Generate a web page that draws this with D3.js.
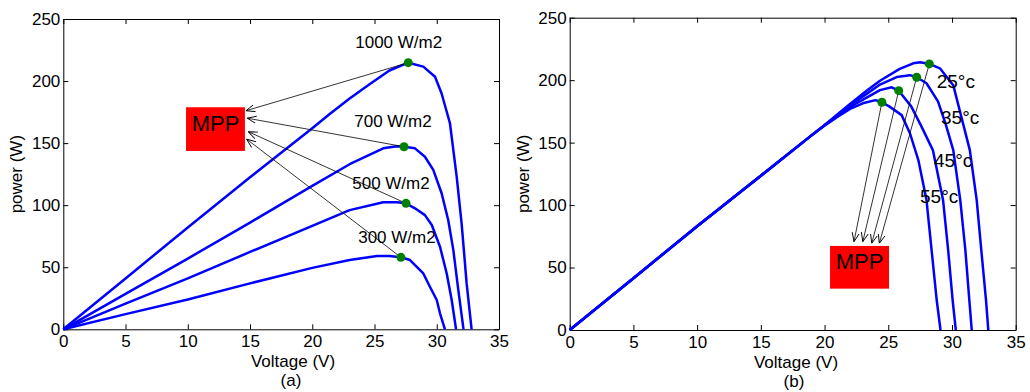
<!DOCTYPE html>
<html>
<head>
<meta charset="utf-8">
<script src="https://cdn.jsdelivr.net/npm/d3@7"></script>
<style>
  html, body { margin: 0; padding: 0; background: #fff; }
  svg { display: block; font-family: "Liberation Sans", Arial, sans-serif; }
</style>
</head>
<body>
<svg id="chart" width="1030" height="392"></svg>
<script>
// shared axis ticks
const xTicks = [0, 5, 10, 15, 20, 25, 30, 35];
const yTicks = [0, 50, 100, 150, 200, 250];

// (a) irradiance curves
const irrLabels = ["1000 W/m2", "700 W/m2", "500 W/m2", "300 W/m2"];
const volts1000 = [0, 5, 10, 15, 20, 21.4, 23, 24.6, 26.2, 27.71, 28.92, 29.86, 30.39, 31.06, 31.6, 32.0, 32.4, 32.8];
const power1000 = [0, 41, 82, 122.5, 162, 173.5, 186, 197.5, 208.5, 214.8, 211.6, 203.5, 190, 166, 123, 85, 37, 0];
const volts700 = [0, 5, 10, 15, 20, 23, 25.7, 26.8, 27.37, 28.25, 29.05, 29.72, 30.39, 30.92, 31.33, 31.73, 32.15];
const power700 = [0, 28.5, 57, 86, 115.5, 133, 145.8, 147.5, 147.1, 145.8, 139, 128.4, 109.6, 88, 64, 31.7, 0];
const volts500 = [0, 5, 10, 15, 20, 23, 25.7, 26.8, 27.53, 28.25, 29.05, 29.6, 30.26, 30.8, 31.2, 31.55];
const power500 = [0, 20.7, 41, 62.3, 83.4, 96, 102.3, 102.3, 101.5, 97.5, 92, 84, 66.5, 45, 23.6, 0];
const volts300 = [0, 5, 10, 15, 20, 23, 25.2, 26.2, 27.12, 27.85, 28.92, 29.45, 30.0, 30.26, 30.66];
const power300 = [0, 12.2, 24, 37, 49.5, 55.8, 59, 59, 58, 55.8, 45, 34.3, 23.6, 12.9, 0];
const irrMppV = [27.71, 27.37, 27.53, 27.12];
const irrMppP = [214.8, 147.1, 101.5, 58];
const irrTipV = [14.67, 14.78, 14.86, 14.73];
const irrTipP = [176.1, 170.1, 159.2, 153.2];
const irrLabelV = [23.45, 23.37, 23.21, 23.69];
const irrLabelP = [226.4, 163.3, 112.8, 69.8];
const irrBoxV = [9.86, 14.59];
const irrBoxP = [143.7, 178.9];

// (b) temperature curves
const tempLabels = ["25°c", "35°c", "45°c", "55°c"];
const volts25 = [0, 5, 10, 15, 19, 20, 21, 22, 23.3, 24.35, 25.9, 26.96, 27.5, 28.22, 29.05, 30.1, 31.4, 31.94, 32.3, 32.67, 32.85];
const power25 = [0, 41.5, 83, 123.5, 156, 164, 172.5, 181, 191.5, 199.5, 209, 213.5, 214.3, 213, 209.5, 196, 144, 104, 64, 24, 0];
const volts35 = [0, 5, 10, 15, 19, 20, 21, 22, 23.3, 24.35, 25.66, 26.7, 27.23, 28, 28.9, 29.5, 30.1, 30.65, 31.05, 31.36, 31.55];
const power35 = [0, 41.5, 83, 123.5, 156, 164, 172, 180, 189, 196.5, 202.5, 204, 202.3, 197.5, 183, 165, 144, 104, 64, 24, 0];
const volts45 = [0, 5, 10, 15, 19, 20, 21, 22, 23.3, 24.35, 25.27, 25.82, 26.8, 27.6, 28.5, 29.3, 29.7, 30.05, 30.3];
const power45 = [0, 41.5, 83, 123.5, 156, 164, 171.5, 178.5, 186, 192, 194.3, 191.6, 179, 163, 144, 104, 64, 24, 0];
const volts55 = [0, 5, 10, 15, 19, 20, 21, 22, 23, 24, 24.5, 25.1, 26.05, 26.7, 27.36, 28.0, 28.4, 28.8, 29.1];
const power55 = [0, 41.5, 83, 123.5, 156, 163.5, 170.5, 177, 181.5, 184, 182.3, 178.8, 172, 157.5, 136, 104, 64, 24, 0];
const tempMppV = [28.22, 27.23, 25.82, 24.5];
const tempMppP = [213, 202.3, 191.6, 182.3];
const tempTipV = [24.3, 23.7, 23.0, 22.31];
const tempTipP = [69.4, 69.4, 70.7, 70.7];
const tempLabelV = [28.8, 29.14, 28.59, 27.49];
const tempLabelP = [193.5, 164.9, 130.7, 101.9];
const tempBoxV = [20.43, 25.06];
const tempBoxP = [33.1, 67.3];

const svg = d3.select("#chart");

// open arrow head, like the matlab annotation arrows
svg.append("defs").append("marker")
    .attr("id", "arrow")
    .attr("viewBox", "0 0 10 10")
    .attr("refX", 10)
    .attr("refY", 5)
    .attr("markerUnits", "userSpaceOnUse")
    .attr("markerWidth", 9)
    .attr("markerHeight", 9)
    .attr("orient", "auto")
  .append("path")
    .attr("d", "M0,1 L10,5 L0,9")
    .attr("fill", "none")
    .attr("stroke", "#000")
    .attr("stroke-width", 1);

function drawPanel(p) {
  const x = d3.scaleLinear().domain([0, 35]).range([p.left, p.right]);
  const y = d3.scaleLinear().domain([0, 250]).range([p.bottom, p.top]);
  const g = svg.append("g");

  const axisStyle = sel => {
    sel.attr("font-family", null);
    sel.selectAll("path.domain").attr("stroke", "#000");
    sel.selectAll(".tick line").attr("stroke", "#000");
    sel.selectAll(".tick text").attr("fill", "#000").style("font-size", "17px");
  };

  g.append("g").attr("transform", `translate(0,${p.bottom})`)
    .call(d3.axisBottom(x).tickValues(xTicks).tickSize(-5).tickSizeOuter(0).tickPadding(6))
    .call(axisStyle);
  g.append("g").attr("transform", `translate(0,${p.top})`)
    .call(d3.axisTop(x).tickValues(xTicks).tickSize(-5).tickSizeOuter(0).tickFormat(""))
    .call(axisStyle);
  g.append("g").attr("transform", `translate(${p.left},0)`)
    .call(d3.axisLeft(y).tickValues(yTicks).tickSize(-5).tickSizeOuter(0).tickPadding(3))
    .call(axisStyle);
  g.append("g").attr("transform", `translate(${p.right},0)`)
    .call(d3.axisRight(y).tickValues(yTicks).tickSize(-5).tickSizeOuter(0).tickFormat(""))
    .call(axisStyle);

  const line = d3.line().x(d => x(d[0])).y(d => y(d[1]));
  g.append("g").selectAll("path")
    .data(p.curves)
    .join("path")
      .attr("d", c => line(d3.zip(c.v, c.p)))
      .attr("fill", "none")
      .attr("stroke", "#0000ff")
      .attr("stroke-width", 2.5)
      .attr("stroke-linejoin", "round");

  // MPP box
  g.append("rect")
    .attr("x", x(p.boxV[0]))
    .attr("y", y(p.boxP[1]))
    .attr("width", x(p.boxV[1]) - x(p.boxV[0]))
    .attr("height", y(p.boxP[0]) - y(p.boxP[1]))
    .attr("fill", "#ff0000");
  g.append("text")
    .attr("x", (x(p.boxV[0]) + x(p.boxV[1])) / 2)
    .attr("y", y(p.boxP[1]) + 0.54 * (y(p.boxP[0]) - y(p.boxP[1])))
    .attr("text-anchor", "middle")
    .style("font-size", "22px")
    .text("MPP");

  // arrows from each MPP to the box
  g.append("g").selectAll("line")
    .data(d3.range(p.mppV.length))
    .join("line")
      .attr("x1", i => x(p.mppV[i]))
      .attr("y1", i => y(p.mppP[i]))
      .attr("x2", i => x(p.tipV[i]))
      .attr("y2", i => y(p.tipP[i]))
      .attr("stroke", "#000")
      .attr("stroke-width", 0.8)
      .attr("marker-end", "url(#arrow)");

  g.append("g").selectAll("circle")
    .data(d3.range(p.mppV.length))
    .join("circle")
      .attr("cx", i => x(p.mppV[i]))
      .attr("cy", i => y(p.mppP[i]))
      .attr("r", 4.5)
      .attr("fill", "#008000");

  g.append("g").selectAll("text")
    .data(p.labels)
    .join("text")
      .attr("x", (d, i) => x(p.labelV[i]))
      .attr("y", (d, i) => y(p.labelP[i]))
      .style("font-size", p.labelSize)
      .text(d => d);

  g.append("text")
    .attr("x", p.titleX).attr("y", p.bottom + 37.5)
    .attr("text-anchor", "middle")
    .style("font-size", "17px")
    .text("Voltage (V)");
  g.append("text")
    .attr("x", p.titleX - 2).attr("y", p.bottom + 57)
    .attr("text-anchor", "middle")
    .style("font-size", "17px")
    .text(p.sub);
  g.append("text")
    .attr("transform", `translate(${p.left - 41},${(p.top + p.bottom) / 2}) rotate(-90)`)
    .attr("text-anchor", "middle")
    .style("font-size", "17px")
    .text("power (W)");
}

drawPanel({
  left: 63.3, right: 499, top: 19, bottom: 329.3, sub: "(a)", titleX: 293,
  curves: [
    { v: volts1000, p: power1000 },
    { v: volts700, p: power700 },
    { v: volts500, p: power500 },
    { v: volts300, p: power300 }
  ],
  mppV: irrMppV, mppP: irrMppP, tipV: irrTipV, tipP: irrTipP,
  labels: irrLabels, labelV: irrLabelV, labelP: irrLabelP, labelSize: "17px",
  boxV: irrBoxV, boxP: irrBoxP
});

drawPanel({
  left: 569.7, right: 1015.7, top: 17.7, bottom: 330, sub: "(b)", titleX: 796,
  curves: [
    { v: volts25, p: power25 },
    { v: volts35, p: power35 },
    { v: volts45, p: power45 },
    { v: volts55, p: power55 }
  ],
  mppV: tempMppV, mppP: tempMppP, tipV: tempTipV, tipP: tempTipP,
  labels: tempLabels, labelV: tempLabelV, labelP: tempLabelP, labelSize: "19px",
  boxV: tempBoxV, boxP: tempBoxP
});
</script>
</body>
</html>
